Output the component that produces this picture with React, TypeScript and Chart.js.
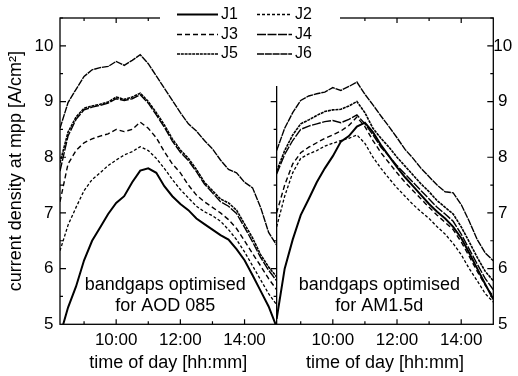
import React, { useEffect, useRef } from "react";
import { Chart, registerables } from "chart.js";

Chart.register(...registerables);

// time of day in hours (8:15 ... 15:00, 15 min steps)
const TIMES = [
  8.25, 8.5, 8.75, 9.0, 9.25, 9.5, 9.75, 10.0, 10.25, 10.5, 10.75, 11.0, 11.25, 11.5,
  11.75, 12.0, 12.25, 12.5, 12.75, 13.0, 13.25, 13.5, 13.75, 14.0, 14.25, 14.5, 14.75, 15.0,
];

const SERIES_NAMES = ["J1", "J2", "J3", "J4", "J5", "J6"];

// Left panel: bandgaps optimised for AOD 085
const AOD_J1 = [4.8, 5.3, 5.68, 6.15, 6.5, 6.74, 6.98, 7.18, 7.3, 7.55, 7.76, 7.8, 7.72, 7.48, 7.3, 7.16, 7.05, 6.9, 6.8, 6.7, 6.6, 6.52, 6.35, 6.15, 5.88, 5.6, 5.32, 4.95];
const AOD_J2 = [6.32, 6.78, 7.1, 7.4, 7.6, 7.72, 7.85, 7.95, 8.04, 8.1, 8.19, 8.12, 7.98, 7.8, 7.6, 7.42, 7.27, 7.12, 7.02, 6.95, 6.85, 6.7, 6.52, 6.3, 6.05, 5.8, 5.55, 5.35];
const AOD_J3 = [7.2, 7.88, 8.12, 8.26, 8.33, 8.38, 8.42, 8.5, 8.46, 8.5, 8.63, 8.52, 8.35, 8.1, 7.88, 7.72, 7.5, 7.32, 7.2, 7.1, 7.0, 6.88, 6.72, 6.5, 6.27, 6.05, 5.82, 5.62];
const AOD_J4 = [7.75, 8.38, 8.68, 8.85, 8.9, 8.93, 8.97, 9.05, 9.02, 9.05, 9.12, 8.97, 8.76, 8.54, 8.29, 8.09, 7.94, 7.74, 7.52, 7.36, 7.2, 7.12, 6.99, 6.74, 6.48, 6.2, 5.97, 5.78];
const AOD_J5 = [7.9, 8.45, 8.72, 8.88, 8.92, 8.95, 8.99, 9.08, 9.04, 9.08, 9.15, 9.0, 8.8, 8.58, 8.33, 8.13, 7.98, 7.78, 7.55, 7.4, 7.25, 7.18, 7.05, 6.8, 6.55, 6.25, 6.03, 5.85];
const AOD_J6 = [8.52, 8.98, 9.22, 9.45, 9.57, 9.61, 9.63, 9.72, 9.65, 9.74, 9.84, 9.68, 9.46, 9.24, 9.02, 8.8, 8.6, 8.47, 8.3, 8.15, 7.95, 7.78, 7.72, 7.55, 7.45, 7.1, 6.65, 6.42];

// Right panel: bandgaps optimised for AM1.5d
const AM_J1 = [5.1, 6.0, 6.52, 6.96, 7.25, 7.55, 7.8, 8.02, 8.28, 8.38, 8.55, 8.62, 8.45, 8.22, 8.02, 7.82, 7.64, 7.48, 7.32, 7.16, 7.02, 6.9, 6.75, 6.55, 6.28, 6.0, 5.72, 5.45];
const AM_J2 = [6.75, 7.3, 7.72, 7.98, 8.06, 8.12, 8.2, 8.25, 8.3, 8.34, 8.4, 8.25, 8.0, 7.8, 7.62, 7.45, 7.3, 7.15, 7.02, 6.9, 6.75, 6.62, 6.45, 6.25, 6.0, 5.78, 5.55, 5.4];
const AM_J3 = [7.0, 7.5, 7.88, 8.08, 8.18, 8.26, 8.34, 8.4, 8.47, 8.57, 8.72, 8.55, 8.3, 8.08, 7.9, 7.72, 7.55, 7.4, 7.25, 7.1, 6.96, 6.83, 6.7, 6.48, 6.22, 5.95, 5.7, 5.5];
const AM_J4 = [7.7, 8.05, 8.3, 8.5, 8.56, 8.6, 8.64, 8.66, 8.62, 8.68, 8.76, 8.6, 8.4, 8.18, 8.02, 7.85, 7.7, 7.55, 7.4, 7.25, 7.1, 6.98, 6.85, 6.62, 6.35, 6.08, 5.82, 5.62];
const AM_J5 = [7.75, 8.12, 8.4, 8.6, 8.67, 8.75, 8.82, 8.85, 8.86, 8.92, 9.0, 8.8, 8.52, 8.34, 8.18, 8.0, 7.84, 7.68, 7.52, 7.38, 7.22, 7.1, 6.98, 6.75, 6.48, 6.2, 5.95, 5.78];
const AM_J6 = [8.12, 8.52, 8.8, 9.02, 9.1, 9.14, 9.17, 9.25, 9.2, 9.27, 9.35, 9.13, 8.94, 8.74, 8.55, 8.35, 8.14, 7.98, 7.8, 7.65, 7.5, 7.38, 7.36, 7.15, 6.85, 6.52, 6.28, 6.14];

const AOD_SERIES = [AOD_J1, AOD_J2, AOD_J3, AOD_J4, AOD_J5, AOD_J6];
const AM_SERIES = [AM_J1, AM_J2, AM_J3, AM_J4, AM_J5, AM_J6];

const X_MIN = 8.25;
const X_MAX = 15;
const Y_MIN = 5;
const Y_MAX = 10.5;

const X_TITLE = "time of day [hh:mm]";
const Y_TITLE = "current density at mpp [A/cm²]";
const PANEL_TEXT_LEFT = ["bandgaps optimised", "for AOD 085"];
const PANEL_TEXT_RIGHT = ["bandgaps optimised", "for AM1.5d"];

const FONT = "'Liberation Sans', Arial, Helvetica, sans-serif";

// line styles per series
const STYLES = [
  { width: 2, dash: [] as number[] },
  { width: 1.3, dash: [3, 2] },
  { width: 1.4, dash: [5, 3] },
  { width: 1.4, dash: [9, 1.5] },
  { width: 1.6, dash: [3, 0.8] },
  { width: 1.4, dash: [7, 0.8] },
];

function makeDatasets(series: number[][], axis: string) {
  return series.map((vals, i) => ({
    label: SERIES_NAMES[i],
    data: vals.map((v, j) => ({ x: TIMES[j], y: v })),
    xAxisID: axis,
    yAxisID: "y",
    borderColor: "#000",
    borderWidth: STYLES[i].width,
    borderDash: STYLES[i].dash,
    pointRadius: 0,
    tension: 0,
    fill: false,
  }));
}

const framePlugin = {
  id: "framePlugin",
  beforeDatasetsDraw(chart: any) {
    const { ctx, chartArea: a, scales } = chart;
    const xs = [scales.x, scales.x2];
    const y = scales.y;
    ctx.save();
    ctx.strokeStyle = "#000";
    ctx.lineWidth = 1.3;
    ctx.strokeRect(a.left, a.top, a.right - a.left, a.bottom - a.top);
    const xd = scales.x.getPixelForValue(X_MAX);
    ctx.beginPath();
    ctx.moveTo(xd, a.top);
    ctx.lineTo(xd, a.bottom);
    ctx.stroke();
    ctx.lineWidth = 1.2;
    ctx.beginPath();
    for (const sc of xs) {
      for (let h = Math.ceil(X_MIN); h < X_MAX; h++) {
        const px = sc.getPixelForValue(h);
        const len = h % 2 === 0 ? 5 : 3;
        ctx.moveTo(px, a.bottom);
        ctx.lineTo(px, a.bottom - len);
        ctx.moveTo(px, a.top);
        ctx.lineTo(px, a.top + len);
      }
    }
    for (let v = Y_MIN + 0.5; v <= Y_MAX; v += 0.5) {
      const py = y.getPixelForValue(v);
      const len = Number.isInteger(v) ? 6 : 3;
      ctx.moveTo(a.left, py);
      ctx.lineTo(a.left + len, py);
      ctx.moveTo(a.right, py);
      ctx.lineTo(a.right - len, py);
      ctx.moveTo(xd, py);
      ctx.lineTo(xd - len, py);
    }
    ctx.stroke();
    // legend background box
    ctx.fillStyle = "#fff";
    ctx.fillRect(160, 0, 180, 86);
    ctx.restore();
  },
  afterDatasetsDraw(chart: any) {
    const { ctx, scales } = chart;
    ctx.save();
    // legend
    ctx.font = `16px ${FONT}`;
    ctx.fillStyle = "#000";
    ctx.textBaseline = "middle";
    ctx.textAlign = "left";
    const cols = [
      { x0: 177, x1: 218, tx: 221 },
      { x0: 257, x1: 292, tx: 295 },
    ];
    const rows = [14.5, 34.5, 54];
    chart.data.datasets.slice(0, 6).forEach((ds: any, i: number) => {
      const c = cols[i % 2];
      const r = rows[Math.floor(i / 2)];
      ctx.strokeStyle = "#000";
      ctx.lineWidth = ds.borderWidth;
      ctx.setLineDash(ds.borderDash || []);
      ctx.beginPath();
      ctx.moveTo(c.x0, r);
      ctx.lineTo(c.x1, r);
      ctx.stroke();
      ctx.setLineDash([]);
      ctx.fillText(ds.label, c.tx, r);
    });
    // panel annotations
    ctx.font = `18px ${FONT}`;
    ctx.textAlign = "center";
    const y = scales.y;
    const put = (sc: any, t: number, lines: string[]) => {
      ctx.fillText(lines[0], sc.getPixelForValue(t), y.getPixelForValue(5.71));
      ctx.fillText(lines[1], sc.getPixelForValue(t), y.getPixelForValue(5.32));
    };
    put(scales.x, 11.53, PANEL_TEXT_LEFT);
    put(scales.x2, 11.45, PANEL_TEXT_RIGHT);
    ctx.restore();
  },
};

function xScale(fitHeight: number) {
  return {
    type: "linear",
    position: "bottom",
    stack: "time",
    stackWeight: 1,
    min: X_MIN,
    max: X_MAX,
    grid: { display: false, drawTicks: false },
    border: { display: false },
    ticks: {
      stepSize: 1,
      includeBounds: false,
      autoSkip: false,
      maxRotation: 0,
      padding: 5.5,
      color: "#000",
      font: { family: FONT, size: 17 },
      callback: (v: number) => (v % 2 === 0 ? `${v}:00` : ""),
    },
    title: {
      display: true,
      text: X_TITLE,
      color: "#000",
      font: { family: FONT, size: 18 },
      padding: { top: 0, bottom: 2.5 },
    },
    afterFit: (s: any) => {
      s.height = fitHeight;
    },
  };
}

export default function App() {
  const ref = useRef<HTMLCanvasElement | null>(null);
  useEffect(() => {
    document.body.style.margin = "0";
    const canvas = ref.current;
    if (!canvas) return;
    const chart = new Chart(canvas, {
      type: "line",
      data: {
        datasets: [...makeDatasets(AOD_SERIES, "x"), ...makeDatasets(AM_SERIES, "x2")],
      },
      options: {
        responsive: false,
        animation: false,
        layout: { padding: { top: 18, left: 0, right: 0, bottom: 0 } },
        plugins: { legend: { display: false }, tooltip: { enabled: false } },
        scales: {
          x: xScale(51.7) as any,
          x2: xScale(51.7) as any,
          y: {
            type: "linear",
            position: "left",
            min: Y_MIN,
            max: Y_MAX,
            grid: { display: false, drawTicks: false },
            border: { display: false },
            ticks: {
              stepSize: 1,
              includeBounds: false,
              padding: 6.5,
              color: "#000",
              font: { family: FONT, size: 17 },
              callback: (v: number) => (Number.isInteger(v) ? String(v) : ""),
            },
            title: {
              display: true,
              text: Y_TITLE,
              color: "#000",
              font: { family: FONT, size: 18 },
              padding: { top: 5, bottom: 0 },
            },
            afterFit: (s: any) => {
              s.width = 60;
            },
          },
          y2: {
            type: "linear",
            position: "right",
            min: Y_MIN,
            max: Y_MAX,
            grid: { display: false, drawTicks: false },
            border: { display: false },
            ticks: {
              stepSize: 1,
              includeBounds: false,
              padding: 0,
              crossAlign: "center",
              color: "#000",
              font: { family: FONT, size: 17 },
              callback: (v: number) => (Number.isInteger(v) ? String(v) : ""),
            },
            afterFit: (s: any) => {
              s.width = 24.7;
            },
          },
        },
      } as any,
      plugins: [framePlugin],
    });
    return () => chart.destroy();
  }, []);
  return (
    <div style={{ width: 518, height: 376, position: "relative", background: "#fff" }}>
      <canvas ref={ref} width={518} height={376} style={{ width: 518, height: 376, display: "block" }} />
    </div>
  );
}
